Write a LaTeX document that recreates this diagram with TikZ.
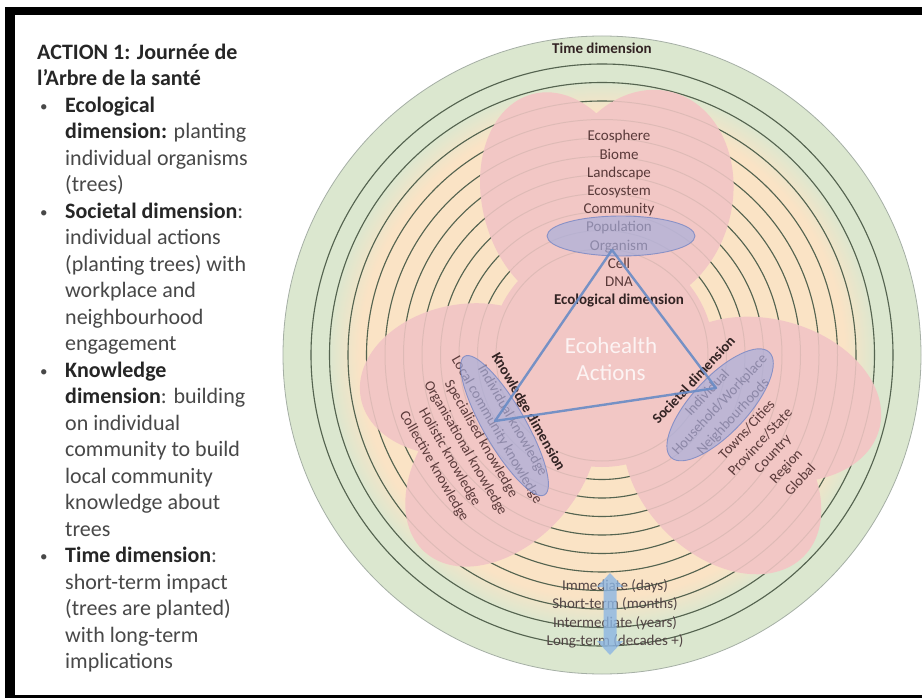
\documentclass[tikz,border=0pt]{standalone}
\usepackage{fontspec}
\setmainfont{Carlito}
\usetikzlibrary{calc}

\definecolor{ringgreen}{RGB}{219,231,207}
\definecolor{ringbeige}{RGB}{250,227,197}
\definecolor{lobepink}{RGB}{242,199,197}
\definecolor{ringline}{RGB}{85,100,80}
\definecolor{edgegray}{RGB}{165,175,165}
\definecolor{txtbrown}{RGB}{90,58,58}
\definecolor{txtdark}{RGB}{50,35,35}
\definecolor{blueell}{RGB}{166,174,220}
\definecolor{blueedge}{RGB}{118,134,196}
\definecolor{triblue}{RGB}{105,140,198}
\definecolor{arrowblue}{RGB}{140,182,228}
\definecolor{lefttxt}{RGB}{72,72,72}
\definecolor{leftbold}{RGB}{38,38,38}

\pgfdeclareradialshading{ringshade}{\pgfpoint{0bp}{0bp}}{color(0bp)=(ringbeige); color(19bp)=(ringbeige); color(21.5bp)=(ringgreen); color(50bp)=(ringgreen)}

\newcommand\lbold[1]{\textbf{\color{leftbold}#1}}
\newcommand\lbul{{\hspace*{3pt}\fontsize{15}{15}\selectfont\raisebox{1pt}{•}}}
\newcommand\petal[4]{%
  \fill[lobepink, rotate around={#1:({602+#2*cos(#1)},{355-#2*sin(#1)})}]
    ({602+#2*cos(#1)},{355-#2*sin(#1)}) ellipse [x radius=#3, y radius=#4];}

\begin{document}
\begin{tikzpicture}[x=1pt,y=-1pt,
  ecotxt/.style={anchor=base, inner sep=0, font=\fontsize{15}{18}\selectfont, text=txtbrown},
  ecobold/.style={anchor=base, inner sep=0, font=\bfseries\fontsize{15}{18}\selectfont, text=txtdark},
  rottxt/.style={anchor=center, inner sep=0, font=\fontsize{14.5}{17}\selectfont, text=txtbrown},
  rotbold/.style={anchor=center, inner sep=0, font=\bfseries\fontsize{14.5}{17}\selectfont, text=txtdark},
  ringstroke/.style={ringline, line width=1.1pt},
  blueoval/.style={fill=blueell, fill opacity=0.68, draw=blueedge, draw opacity=0.8, line width=0.9pt}]
\useasboundingbox (0,0) rectangle (922,698);
\fill[white] (0,0) rectangle (922,698);
% frame
\fill[black] (5,7) rectangle (922,15);
\fill[black] (5,7) rectangle (15,698);
\fill[black] (5,695) rectangle (922,698);

% left column text
\node[anchor=north west, inner sep=0, font=\fontsize{22}{26.5}\selectfont, text=lefttxt] (leftcol) at (37,40.5) {%
\begin{tabular}{@{}p{28pt}@{}l@{}}
\multicolumn{2}{@{}l@{}}{\lbold{ACTION 1: Journée de}}\\
\multicolumn{2}{@{}l@{}}{\lbold{l'Arbre de la santé}}\\
\lbul & \lbold{Ecological}\\
 & \lbold{dimension:} planting\\
 & individual organisms\\
 & (trees)\\
\lbul & \lbold{Societal dimension}:\\
 & individual actions\\
 & (planting trees) with\\
 & workplace and\\
 & neighbourhood\\
 & engagement\\
\lbul & \lbold{Knowledge}\\
 & \lbold{dimension}: building\\
 & on individual\\
 & community to build\\
 & local community\\
 & knowledge about\\
 & trees\\
\lbul & \lbold{Time dimension}:\\
 & short-term impact\\
 & (trees are planted)\\
 & with long-term\\
 & implications
\end{tabular}};

% rings
\coordinate (O) at (602,355);
\shade[shading=ringshade] (O) circle (319);
\draw[edgegray, line width=0.8pt] (O) circle (319);
\foreach \k in {0,...,10} \draw[ringstroke] (O) circle ({291-18.5*\k});

% pink lobes
\petal{105}{160}{110}{78}
\petal{75}{162}{110}{88}
\petal{190}{140}{105}{75}
\petal{228}{150}{115}{78}
\petal{345}{172}{115}{80}
\petal{315}{170}{115}{80}
\fill[lobepink] (O) circle (112);
\foreach \k in {0,...,10} \draw[ringline, line width=1pt, opacity=0.12] (O) circle ({291-18.5*\k});

% time label
\node[ecobold, anchor=center] (timedim) at (602,48) {Time dimension};

% ecological list
\foreach [count=\i from 0] \t in {Ecosphere,Biome,Landscape,Ecosystem,Community,Population,Organism,Cell,DNA}
  \node[ecotxt] (eco\i) at (619,{141+18.2*\i}) {\t};
\node[ecobold] (ecodim) at (619,305) {Ecological dimension};

% knowledge list
\node[rotbold, rotate=-60] (know0) at (528,412) {Knowledge dimension};
\foreach [count=\i from 1] \t in {Individual knowledge,Local community knowledge,Specialised knowledge,Organisational knowledge,Holistic knowledge,Collective knowledge}
  \node[rottxt, rotate=-60] (know\i) at ({528-15.7*\i},{412+9.05*\i}) {\t};

% societal list
\node[rotbold, rotate=47] (soc0) at (693.5,380) {Societal dimension};
\foreach [count=\i from 1] \t in {Individual,Household/Workplace,Neighbourhoods,Towns/Cities,Province/State,Country,Region,Global}
  \node[rottxt, rotate=47] (soc\i) at ({693.5+13.3*\i},{380+12.4*\i}) {\t};

% blue ovals
\path[blueoval] (621,236) ellipse [x radius=74, y radius=20];
\path[blueoval, rotate around={-60:(504.5,425.6)}] (504.5,425.6) ellipse [x radius=80, y radius=21];
\path[blueoval, rotate around={47:(720.1,404.8)}] (720.1,404.8) ellipse [x radius=72, y radius=28];

% triangle
\coordinate (vt) at (612,250);
\coordinate (vl) at (495,421);
\coordinate (vr) at (716,388);
\draw[triblue, line width=2.4pt, line join=round, opacity=0.9] (vt) -- (vl) -- (vr) -- cycle;

% centre label
\node[font=\fontsize{23}{27}\selectfont, text=white, text opacity=0.8, align=center, inner sep=0] (ecoact) at (611,359) {Ecohealth\\Actions};

% time scale
\foreach \t/\yy [count=\i] in {Immediate (days)/590,Short-term (months)/608,Intermediate (years)/627,Long-term (decades +)/645}
  \node[ecotxt, text=txtdark!85] (time\i) at (615,\yy) {\t};
\fill[arrowblue, opacity=0.8] (610,573) -- (623,587) -- (616.5,587) -- (616.5,641) -- (623,641) -- (610,655)
  -- (597,641) -- (603.5,641) -- (603.5,587) -- (597,587) -- cycle;
\end{tikzpicture}
\end{document}
